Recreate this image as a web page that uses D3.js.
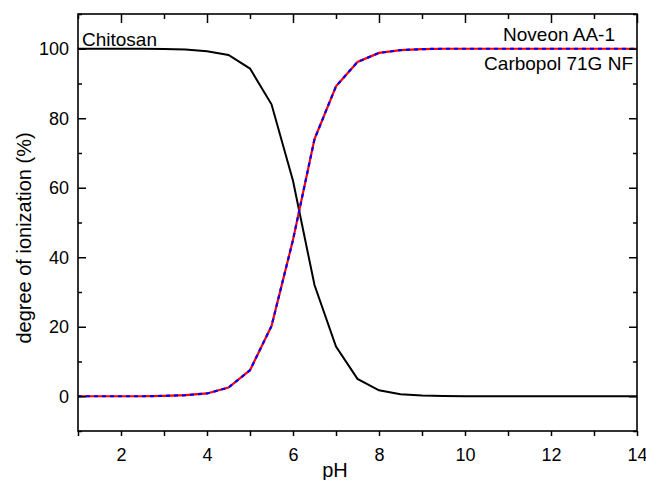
<!DOCTYPE html>
<html>
<head>
<meta charset="utf-8">
<script src="https://cdn.jsdelivr.net/npm/d3@7"></script>
<style>
  body { margin: 0; background: #fff; }
  text { font-family: "Liberation Sans", Arial, sans-serif; fill: #000; }
</style>
</head>
<body>
<svg id="chart" width="646" height="480"></svg>
<script>
// pH values (0.5 steps)
var phValues = [1, 1.5, 2, 2.5, 3, 3.5, 4, 4.5, 5, 5.5, 6, 6.5, 7, 7.5, 8, 8.5, 9, 9.5, 10, 10.5, 11, 11.5, 12, 12.5, 13, 13.5, 14];
// degree of ionization (%)
var chitosan = [100, 100, 100, 100, 99.9, 99.8, 99.3, 98.2, 94.3, 84, 62, 32, 14.3, 5, 1.7, 0.6, 0.2, 0.1, 0, 0, 0, 0, 0, 0, 0, 0, 0];
var carbopol = [0, 0, 0, 0, 0.1, 0.3, 0.8, 2.5, 7.5, 20.2, 45, 74, 89.2, 96.2, 98.8, 99.6, 99.9, 100, 100, 100, 100, 100, 100, 100, 100, 100, 100];

var xTicks = [2, 4, 6, 8, 10, 12, 14];
var xMinor = [1, 3, 5, 7, 9, 11, 13];
var yTicks = [0, 20, 40, 60, 80, 100];
var yMinor = [-10, 10, 30, 50, 70, 90, 110];

function drawChart() {
    var svg = d3.select("#chart");
    var mLeft = 78, mRight = 637, mTop = 14, mBottom = 431;

    var x = d3.scaleLinear().domain([1, 14]).range([mLeft, mRight]);
    var y = d3.scaleLinear().domain([-10, 110]).range([mBottom, mTop]);

    var line = d3.line()
        .x(function(d) { return x(d[0]); })
        .y(function(d) { return y(d[1]); });

    var chitoData = phValues.map(function(p, i) { return [p, chitosan[i]]; });
    var carboData = phValues.map(function(p, i) { return [p, carbopol[i]]; });

    var plot = svg.append("g");

    plot.append("path")
        .datum(chitoData)
        .attr("d", line)
        .attr("fill", "none")
        .attr("stroke", "#000")
        .attr("stroke-width", 2);

    // red solid with blue dashes on top
    plot.append("path")
        .datum(carboData)
        .attr("d", line)
        .attr("fill", "none")
        .attr("stroke", "#ff0000")
        .attr("stroke-width", 2.2);

    plot.append("path")
        .datum(carboData)
        .attr("d", line)
        .attr("fill", "none")
        .attr("stroke", "#0000ff")
        .attr("stroke-width", 2.2)
        .attr("stroke-dasharray", "4,4");

    // axes: bottom ticks outward, the others inward
    svg.append("g")
        .attr("transform", "translate(0," + mBottom + ")")
        .call(d3.axisBottom(x).tickValues(xTicks).tickSize(5).tickPadding(12).tickFormat(d3.format("d")));
    svg.append("g")
        .attr("transform", "translate(0," + mBottom + ")")
        .call(d3.axisBottom(x).tickValues(xMinor).tickSize(5).tickFormat(""));

    svg.append("g")
        .attr("transform", "translate(0," + mTop + ")")
        .call(d3.axisBottom(x).tickValues(xTicks).tickSize(9).tickFormat(""));
    svg.append("g")
        .attr("transform", "translate(0," + mTop + ")")
        .call(d3.axisBottom(x).tickValues(xMinor).tickSize(5).tickFormat(""));

    svg.append("g")
        .attr("transform", "translate(" + mLeft + ",0)")
        .call(d3.axisRight(y).tickValues(yTicks).tickSize(8).tickFormat(""));
    svg.append("g")
        .attr("transform", "translate(" + mLeft + ",0)")
        .call(d3.axisRight(y).tickValues(yMinor).tickSize(4).tickFormat(""));

    svg.append("g")
        .attr("transform", "translate(" + mRight + ",0)")
        .call(d3.axisLeft(y).tickValues(yTicks).tickSize(8).tickFormat(""));
    svg.append("g")
        .attr("transform", "translate(" + mRight + ",0)")
        .call(d3.axisLeft(y).tickValues(yMinor).tickSize(4).tickFormat(""));

    svg.selectAll(".domain").remove();
    svg.selectAll(".tick line").attr("stroke", "#000").attr("stroke-width", 1.5);
    svg.selectAll(".tick text")
        .style("font-size", "18px")
        .style("font-family", "Liberation Sans, Arial, sans-serif");

    // y tick labels outside the left edge
    svg.append("g").selectAll("text")
        .data(yTicks)
        .enter()
        .append("text")
        .attr("x", mLeft - 9)
        .attr("y", function(d) { return y(d); })
        .attr("dy", "0.35em")
        .attr("text-anchor", "end")
        .style("font-size", "18px")
        .text(function(d) { return d; });

    // frame
    svg.append("rect")
        .attr("x", mLeft).attr("y", mTop)
        .attr("width", mRight - mLeft).attr("height", mBottom - mTop)
        .attr("fill", "none")
        .attr("stroke", "#000")
        .attr("stroke-width", 1.6);

    // titles
    svg.append("text")
        .attr("x", 335).attr("y", 477)
        .attr("text-anchor", "middle")
        .style("font-size", "20px")
        .text("pH");

    svg.append("text")
        .attr("transform", "translate(31,238) rotate(-90)")
        .attr("text-anchor", "middle")
        .style("font-size", "20px")
        .text("degree of ionization (%)");

    // series labels
    svg.append("text")
        .attr("x", 82).attr("y", 46)
        .style("font-size", "19px")
        .text("Chitosan");

    svg.append("text")
        .attr("x", 615).attr("y", 41)
        .attr("text-anchor", "end")
        .style("font-size", "19px")
        .text("Noveon AA-1");

    svg.append("text")
        .attr("x", 633).attr("y", 70)
        .attr("text-anchor", "end")
        .style("font-size", "19px")
        .text("Carbopol 71G NF");
}

drawChart();
</script>
</body>
</html>
